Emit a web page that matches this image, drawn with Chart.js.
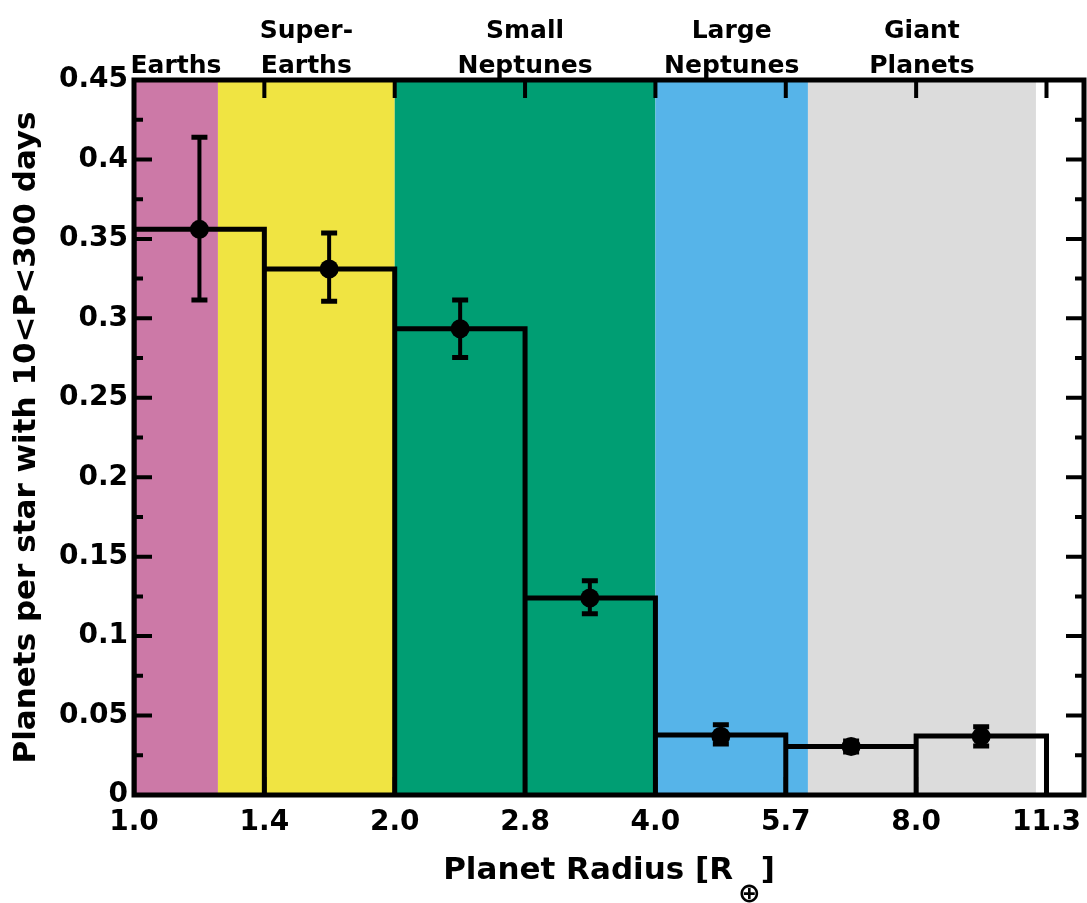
<!DOCTYPE html>
<html><head><meta charset="utf-8">
<script src="https://cdn.jsdelivr.net/npm/chart.js@4/dist/chart.umd.min.js"></script>
<style>html,body{margin:0;padding:0;background:#fff;overflow:hidden}#wrap{position:relative;width:1087px;height:903px;overflow:hidden}canvas{display:block}</style>
</head><body><div id="wrap"><canvas id="c"></canvas></div>
<script>
// ---- data ----
const binEdges = [1.0, 1.4142, 2.0, 2.8284, 4.0, 5.6569, 8.0, 11.3137];
const binValues = [0.356, 0.331, 0.2935, 0.124, 0.0378, 0.0305, 0.0372];
const pointRadii = [1.19, 1.68, 2.38, 3.36, 4.76, 6.73, 9.51];
const pointValues = [0.356, 0.331, 0.2935, 0.124, 0.037, 0.0305, 0.0369];
const errLow  = [0.3115, 0.3107, 0.2754, 0.1141, 0.0321, 0.0270, 0.0309];
const errHigh = [0.4140, 0.3537, 0.3116, 0.1349, 0.0442, 0.0340, 0.0429];
const xTickValues = [1.0, 1.4142, 2.0, 2.8284, 4.0, 5.6569, 8.0, 11.3137];
const xTickLabels = ['1.0', '1.4', '2.0', '2.8', '4.0', '5.7', '8.0', '11.3'];
const yTickValues = [0, 0.05, 0.1, 0.15, 0.2, 0.25, 0.3, 0.35, 0.4, 0.45];
const yTickLabels = ['0', '0.05', '0.1', '0.15', '0.2', '0.25', '0.3', '0.35', '0.4', '0.45'];
const yMinorTicks = [0.025, 0.075, 0.125, 0.175, 0.225, 0.275, 0.325, 0.375, 0.425];
const bandEdges = [1.0, 1.25, 2.0, 4.0, 6.0, 11.0];
const bandColors = ['#CC79A7', '#F0E442', '#009E73', '#56B4E9', '#DCDCDC'];
const bandNames = [['Earths'], ['Super-', 'Earths'], ['Small', 'Neptunes'], ['Large', 'Neptunes'], ['Giant', 'Planets']];
const xTitle = 'Planet Radius [R';
const xTitleSub = '\u2295';
const xTitleEnd = ']';
const yTitle = 'Planets per star with 10<P<300 days';

// outline of the histogram built from the bins
const outline = [{x: binEdges[0], y: 0}];
for (let i = 0; i < binValues.length; i++) {
  outline.push({x: binEdges[i], y: binValues[i]});
  outline.push({x: binEdges[i + 1], y: binValues[i]});
  outline.push({x: binEdges[i + 1], y: 0});
}
const points = pointRadii.map((r, i) => ({x: r, y: pointValues[i]}));

const FONT = 'DejaVu Sans';
Chart.defaults.font.family = FONT;
Chart.defaults.color = '#000';

const decor = {
  id: 'decor',
  beforeDatasetsDraw(chart) {
    const {ctx, chartArea: a, scales: {x}} = chart;
    ctx.save();
    for (let i = 0; i < bandColors.length; i++) {
      const x0 = x.getPixelForValue(bandEdges[i]);
      const x1 = x.getPixelForValue(bandEdges[i + 1]);
      ctx.fillStyle = bandColors[i];
      ctx.fillRect(x0, a.top, x1 - x0, a.bottom - a.top);
    }
    ctx.restore();
  },
  afterDatasetsDraw(chart) {
    const {ctx, scales: {x, y}} = chart;
    ctx.save();
    ctx.strokeStyle = '#000';
    for (let i = 0; i < pointRadii.length; i++) {
      const px = x.getPixelForValue(pointRadii[i]);
      const yl = y.getPixelForValue(errLow[i]);
      const yh = y.getPixelForValue(errHigh[i]);
      ctx.lineWidth = 4;
      ctx.beginPath(); ctx.moveTo(px, yl); ctx.lineTo(px, yh); ctx.stroke();
      ctx.lineWidth = 5;
      ctx.beginPath();
      ctx.moveTo(px - 8, yl); ctx.lineTo(px + 8, yl);
      ctx.moveTo(px - 8, yh); ctx.lineTo(px + 8, yh);
      ctx.stroke();
    }
    ctx.restore();
  },
  afterDraw(chart) {
    const {ctx, chartArea: a, scales: {x, y}} = chart;
    ctx.save();
    ctx.strokeStyle = '#000';
    ctx.lineWidth = 4;
    ctx.beginPath();
    yTickValues.forEach(v => {
      const py = y.getPixelForValue(v);
      ctx.moveTo(a.left, py); ctx.lineTo(a.left + 18, py);
      ctx.moveTo(a.right, py); ctx.lineTo(a.right - 18, py);
    });
    yMinorTicks.forEach(v => {
      const py = y.getPixelForValue(v);
      ctx.moveTo(a.left, py); ctx.lineTo(a.left + 9, py);
      ctx.moveTo(a.right, py); ctx.lineTo(a.right - 9, py);
    });
    xTickValues.forEach(v => {
      const px = x.getPixelForValue(v);
      ctx.moveTo(px, a.top); ctx.lineTo(px, a.top + 18);
      ctx.moveTo(px, a.bottom); ctx.lineTo(px, a.bottom - 18);
    });
    ctx.stroke();
    ctx.lineWidth = 5;
    ctx.strokeRect(a.left, a.top, a.right - a.left, a.bottom - a.top);

    // category names above the bands
    ctx.fillStyle = '#000';
    ctx.textAlign = 'center';
    ctx.textBaseline = 'alphabetic';
    ctx.font = 'bold 25px "' + FONT + '"';
    for (let i = 0; i < bandNames.length; i++) {
      const cx = (x.getPixelForValue(bandEdges[i]) + x.getPixelForValue(bandEdges[i + 1])) / 2;
      const lines = bandNames[i];
      for (let j = 0; j < lines.length; j++) {
        const baseline = 73 - (lines.length - 1 - j) * 35;
        ctx.fillText(lines[j], cx, baseline);
      }
    }

    // x axis title with subscript
    const mainFont = 'bold 31px "' + FONT + '"';
    const subFont = 'bold 27px "' + FONT + '"';
    ctx.textAlign = 'left';
    ctx.font = mainFont;
    const w1 = ctx.measureText(xTitle).width;
    const w3 = ctx.measureText(xTitleEnd).width;
    ctx.font = subFont;
    const w2 = ctx.measureText(xTitleSub).width;
    const gap = 5;
    const total = w1 + gap + w2 + w3;
    let tx = (a.left + a.right) / 2 - total / 2;
    const base = 879;
    ctx.font = mainFont;
    ctx.fillText(xTitle, tx, base);
    ctx.font = subFont;
    ctx.fillText(xTitleSub, tx + w1 + gap, base + 23);
    ctx.font = mainFont;
    ctx.fillText(xTitleEnd, tx + w1 + gap + w2, base);
    ctx.restore();
  }
};

new Chart(document.getElementById('c'), {
  type: 'scatter',
  data: {
    datasets: [
      {
        type: 'line',
        data: outline,
        borderColor: '#000',
        borderWidth: 5,
        borderJoinStyle: 'miter',
        borderCapStyle: 'butt',
        pointRadius: 0,
        tension: 0,
        fill: false,
        order: 2
      },
      {
        type: 'scatter',
        data: points,
        backgroundColor: '#000',
        borderWidth: 0,
        pointRadius: 9.5,
        order: 1
      }
    ]
  },
  options: {
    responsive: true,
    maintainAspectRatio: false,
    animation: false,
    devicePixelRatio: 1,
    layout: {autoPadding: false, padding: {top: 80, right: 3, left: 0, bottom: 0}},
    plugins: {legend: {display: false}, tooltip: {enabled: false}},
    scales: {
      x: {
        type: 'logarithmic',
        min: 1.0,
        max: 12.5,
        afterBuildTicks: s => { s.ticks = xTickValues.map(v => ({value: v})); },
        afterFit: s => { s.height = 108; },
        ticks: {
          callback: (v, i) => xTickLabels[i],
          font: {size: 28, weight: 'bold', lineHeight: 2.0},
          color: '#000',
          padding: 0,
          maxRotation: 0,
          autoSkip: false
        },
        grid: {display: false, drawTicks: false},
        border: {display: false}
      },
      y: {
        min: 0,
        max: 0.45,
        afterBuildTicks: s => { s.ticks = yTickValues.map(v => ({value: v})); },
        afterFit: s => { s.width = 134; },
        ticks: {
          callback: (v, i) => yTickLabels[i],
          font: {size: 28, weight: 'bold'},
          color: '#000',
          padding: 6,
          autoSkip: false
        },
        title: {
          display: true,
          text: yTitle,
          font: {size: 31, weight: 'bold'},
          color: '#000',
          padding: {top: 8, bottom: 0}
        },
        grid: {display: false, drawTicks: false},
        border: {display: false}
      }
    }
  },
  plugins: [decor]
});
</script>
</body></html>
